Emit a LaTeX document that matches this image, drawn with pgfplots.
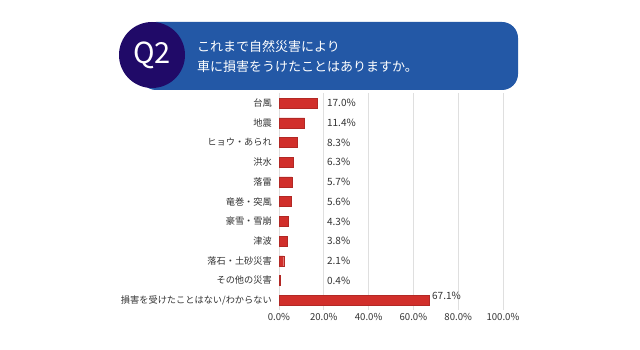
\documentclass[border=0pt]{standalone}
\usepackage{pgfplots}
\pgfplotsset{compat=1.18}
\usepackage{fontspec}
\setmainfont{Noto Sans CJK JP}
\definecolor{barred}{HTML}{D12F2B}
\definecolor{hdrblue}{HTML}{2358A6}
\definecolor{circ}{HTML}{200A68}
\definecolor{txtgray}{HTML}{333333}
\begin{document}
\begin{tikzpicture}[x=1pt,y=1pt]
\fill[white] (0,0) rectangle (640,350);
\useasboundingbox (0,0) rectangle (640,350);
\fill[hdrblue, rounded corners=16pt] (140,260) rectangle (518,328);
\fill[circ] (152,295) circle (33);
\node[white, font=\fontsize{29}{29}\selectfont] at (152,295) {Q2};
\node[white, anchor=west, inner sep=0pt, font=\fontsize{13}{13}\selectfont] at (197,303) {これまで自然災害により};
\node[white, anchor=west, inner sep=0pt, font=\fontsize{13}{13}\selectfont] at (197,283) {車に損害をうけたことはありますか。};
\begin{axis}[
  at={(279pt,40pt)}, anchor=south west, scale only axis,
  width=224pt, height=216.7pt,
  xmin=0, xmax=100, ymin=-0.5, ymax=10.5, y dir=reverse,
  axis line style={draw=none}, tick style={draw=none},
  xtick={0,20,...,100},
  xticklabels={0.0\%,20.0\%,40.0\%,60.0\%,80.0\%,100.0\%},
  ytick={0,...,10},
  yticklabels={台風,地震,ヒョウ・あられ,洪水,落雷,竜巻・突風,豪雪・雪崩,津波,落石・土砂災害,その他の災害,損害を受けたことはない/わからない},
  xmajorgrids, major grid style={gray!25, line width=0.8pt},
  tick label style={font=\fontsize{9.2}{10}\selectfont, text=txtgray},
  xticklabel style={font=\fontsize{9.6}{10}\selectfont},
  yticklabel style={inner sep=0pt, xshift=-7pt},
  /pgf/number format/assume math mode=true,
  clip=false,
]
\addplot[xbar, bar width=10pt, fill=barred, draw=barred!85!black, line width=0.3pt] coordinates {
(17.0,0) (11.4,1) (8.3,2) (6.3,3) (5.7,4) (5.6,5) (4.3,6) (3.8,7) (2.1,8) (0.4,9) (67.1,10)};
\addplot[draw=none, mark=none, point meta=explicit,
  nodes near coords={\pgfmathprintnumber[fixed,fixed zerofill,precision=1]{\pgfplotspointmeta}\%},
  every node near coord/.append style={anchor=west, inner sep=0pt, text=txtgray, font=\fontsize{10}{11}\selectfont}]
  table[x=x, y=y, meta=v] {
x y v
21.4 0 17.0
21.4 1 11.4
21.4 2 8.3
21.4 3 6.3
21.4 4 5.7
21.4 5 5.6
21.4 6 4.3
21.4 7 3.8
21.4 8 2.1
21.4 9 0.4
68.3 9.8 67.1
};
\end{axis}
\end{tikzpicture}
\end{document}
